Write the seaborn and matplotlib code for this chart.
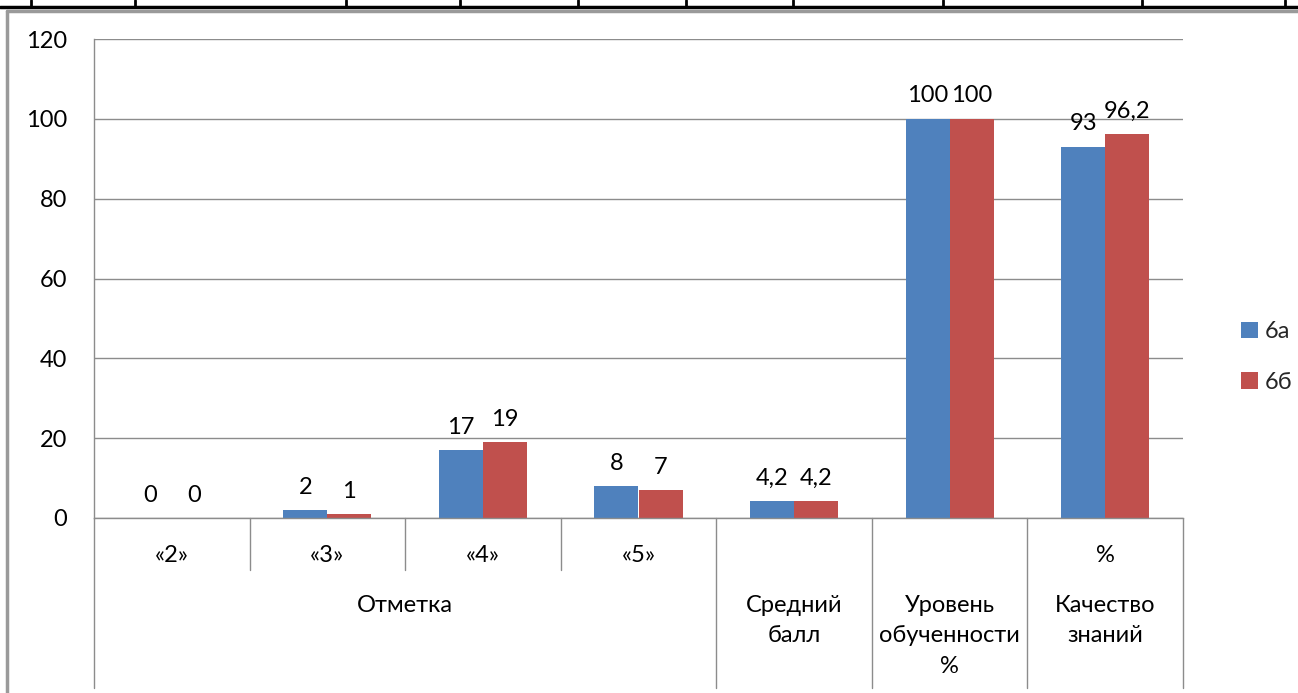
import matplotlib
matplotlib.use("Agg")
import matplotlib.pyplot as plt
import matplotlib.transforms as mtransforms
from matplotlib.patches import Patch
from matplotlib.lines import Line2D
import seaborn as sns
import pandas as pd

# Categories and series values
categories = ["«2»", "«3»", "«4»", "«5»", "Средний балл", "Уровень обученности %", "% Качество знаний"]
series_names = ["6а", "6б"]
values_6a = [0, 2, 17, 8, 4.2, 100, 93]
values_6b = [0, 1, 19, 7, 4.2, 100, 96.2]

# Two-level axis labels
level1_labels = ["«2»", "«3»", "«4»", "«5»", "", "", "%"]
level2_groups = [("Отметка", 0, 3), ("Средний\nбалл", 4, 4),
                 ("Уровень\nобученности\n%", 5, 5), ("Качество\nзнаний", 6, 6)]
y_ticks = [0, 20, 40, 60, 80, 100, 120]

colors = ["#4F81BD", "#C0504D"]
grid_color = "#8C8C8C"
FS = 17

df = pd.DataFrame({
    "category": categories * 2,
    "class": [series_names[0]] * len(categories) + [series_names[1]] * len(categories),
    "value": values_6a + values_6b,
})

sns.set_theme(style="white")
plt.rcParams["font.family"] = ["Lato", "DejaVu Sans"]

W, H = 1298, 693
fig = plt.figure(figsize=(W / 100, H / 100), dpi=100)
left, right, bottom, top = 94 / W, 1183 / W, (H - 518) / H, (H - 39) / H
ax = fig.add_axes([left, bottom, right - left, top - bottom])

sns.barplot(data=df, x="category", y="value", hue="class", order=categories,
            hue_order=series_names, palette=colors, saturation=1, width=0.566,
            linewidth=0, ax=ax, legend=False)

ax.set_xlim(-0.5, len(categories) - 0.5)
ax.set_ylim(0, 120)
ax.set_yticks(y_ticks)
ax.set_yticklabels([str(t) for t in y_ticks], fontsize=FS, color="black")
ax.tick_params(axis="y", length=6.5, color=grid_color, width=1, pad=13)
ax.tick_params(axis="x", length=0, labelbottom=False)
ax.set_xlabel("")
ax.set_ylabel("")
ax.grid(axis="y", color=grid_color, linewidth=1)
ax.set_axisbelow(True)
for side in ["top", "right"]:
    ax.spines[side].set_visible(False)
for side in ["left", "bottom"]:
    ax.spines[side].set_color(grid_color)
    ax.spines[side].set_linewidth(1)

# Data labels with comma decimals
for cont in ax.containers:
    labels = [f"{b.get_height():g}".replace(".", ",") for b in cont]
    ax.bar_label(cont, labels=labels, padding=9, fontsize=FS, color="black")

# Multi-level category axis drawn below the plot
trans = mtransforms.blended_transform_factory(ax.transData, ax.transAxes)
ax_h_px = 518 - 39
def ya(px):
    return (518 - px) / ax_h_px

short_bounds = [0.5, 1.5, 2.5]
long_bounds = [-0.5, 3.5, 4.5, 5.5, 6.5]
for xb in short_bounds:
    ax.add_line(Line2D([xb, xb], [0, ya(570)], transform=trans, color=grid_color,
                       linewidth=1, clip_on=False))
for xb in long_bounds:
    ax.add_line(Line2D([xb, xb], [0, ya(688)], transform=trans, color=grid_color,
                       linewidth=1, clip_on=False))

for i, lab in enumerate(level1_labels):
    if lab:
        ax.text(i, ya(555), lab, transform=trans, ha="center", va="center",
                fontsize=FS, color="black")

for lab, i0, i1 in level2_groups:
    ax.text((i0 + i1) / 2, ya(595), lab, transform=trans, ha="center", va="top",
            fontsize=FS, color="black", linespacing=1.55)

# Legend
handles = [Patch(facecolor=c, edgecolor="none") for c in colors]
fig.legend(handles, series_names, loc="center left",
           bbox_to_anchor=(1220 / W, (H - 357) / H), frameon=False, fontsize=FS,
           handlelength=0.7, handleheight=0.7, handletextpad=0.3, labelspacing=1.25)

# Surrounding page frame and table row above the chart
fig.add_artist(Line2D([0, 1], [(H - 7) / H, (H - 7) / H], color="black", linewidth=2.5))
for xp in [31, 135, 346, 460, 578, 686, 793, 943, 1142, 1285]:
    fig.add_artist(Line2D([xp / W, xp / W], [(H - 7) / H, 1], color="black", linewidth=2))
fig.add_artist(Line2D([7 / W, 1], [(H - 11) / H, (H - 11) / H], color="#9A9A9A", linewidth=2.5))
fig.add_artist(Line2D([7 / W, 7 / W], [0, (H - 11) / H], color="#9A9A9A", linewidth=2.5))

fig.savefig("out.png", dpi=100)
